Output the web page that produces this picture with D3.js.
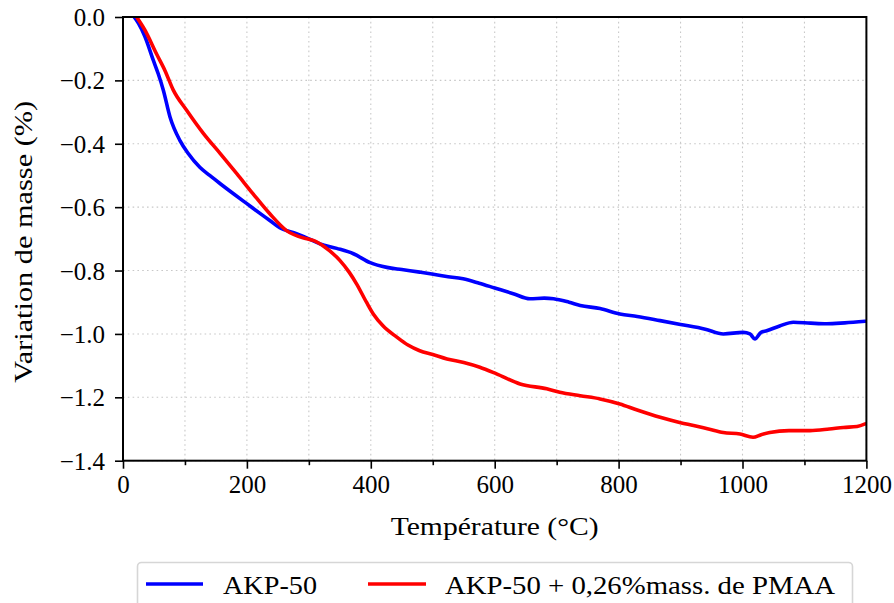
<!DOCTYPE html>
<html>
<head>
<meta charset="utf-8">
<script src="https://cdn.jsdelivr.net/npm/d3@7"></script>
<style>
  html, body { margin: 0; padding: 0; background: #fff; }
  svg { display: block; }
</style>
</head>
<body>
<svg id="chart" width="894" height="603" font-family="DejaVu Serif"></svg>
<script>
// ---- data ----
const blueT = [18,25,35,49,57,65,76,92,105,124,140,157,180,200,220,237,253,280,300,318,345,372,399,426,450,479,496,520,549,575,600,630,657,680,695,720,738,770,802,830,867,900,940,969,1001,1012,1020,1030,1039,1060,1082,1110,1136,1165,1198];
const blueV = [0.0,-0.02,-0.06,-0.137,-0.18,-0.23,-0.316,-0.39,-0.43,-0.474,-0.50,-0.526,-0.56,-0.589,-0.618,-0.642,-0.665,-0.684,-0.70,-0.716,-0.73,-0.747,-0.775,-0.79,-0.797,-0.805,-0.81,-0.818,-0.826,-0.84,-0.855,-0.873,-0.889,-0.887,-0.889,-0.90,-0.91,-0.92,-0.937,-0.945,-0.958,-0.97,-0.985,-1.0,-0.995,-1.0,-1.016,-0.995,-0.99,-0.975,-0.963,-0.966,-0.968,-0.965,-0.96];
const redT = [22,35,54,68,81,103,130,157,184,210,237,264,297,307,325,350,365,377,393,404,420,442,460,479,500,523,550,576,603,641,684,705,738,770,802,830,867,900,921,945,969,996,1017,1030,1044,1075,1109,1140,1163,1185,1198];
const redV = [0.0,-0.04,-0.116,-0.17,-0.23,-0.295,-0.368,-0.431,-0.495,-0.558,-0.621,-0.674,-0.70,-0.705,-0.725,-0.768,-0.805,-0.842,-0.90,-0.937,-0.975,-1.01,-1.035,-1.053,-1.065,-1.079,-1.09,-1.105,-1.126,-1.158,-1.173,-1.184,-1.195,-1.205,-1.221,-1.24,-1.263,-1.28,-1.289,-1.30,-1.311,-1.316,-1.326,-1.318,-1.311,-1.305,-1.305,-1.30,-1.295,-1.292,-1.284];
const seriesNames = ["AKP-50", "AKP-50 + 0,26%mass. de PMAA"];
const seriesColors = ["#0000ff", "#ff0000"];
const xMajorTicks = [0,200,400,600,800,1000,1200];
const xMinorTicks = [100,300,500,700,900,1100];
const yTicks = [0,-0.2,-0.4,-0.6,-0.8,-1.0,-1.2,-1.4];
const xLabel = "Température (°C)";
const yLabel = "Variation de masse (%)";

// ---- layout ----
const FONT = "Liberation Serif";
const svg = d3.select("#chart");
const L = 123, R = 866.4, T = 17, B = 460.7;
const x = d3.scaleLinear().domain([0, 1200]).range([L, R]);
const y = d3.scaleLinear().domain([-1.4, 0]).range([B, T]);

// grid
const grid = svg.append("g").attr("stroke", "#c8c8c8").attr("stroke-width", 1.1).attr("stroke-dasharray", "1.6,3.2");
grid.selectAll("line.vx").data(xMajorTicks.concat(xMinorTicks)).join("line")
  .attr("x1", d => x(d)).attr("x2", d => x(d)).attr("y1", T).attr("y2", B);
grid.selectAll("line.hy").data(yTicks).join("line")
  .attr("x1", L).attr("x2", R).attr("y1", d => y(d)).attr("y2", d => y(d));

// clip
svg.append("clipPath").attr("id", "clip").append("rect")
  .attr("x", L).attr("y", T).attr("width", R - L).attr("height", B - T);

const line = d3.line().x(d => x(d[0])).y(d => y(d[1])).curve(d3.curveMonotoneX);
const blueData = blueT.map((t, i) => [t, blueV[i]]);
const redData = redT.map((t, i) => [t, redV[i]]);
const plotG = svg.append("g").attr("clip-path", "url(#clip)");
[blueData, redData].forEach((data, i) => {
  plotG.append("path").datum(data).attr("d", line)
    .attr("fill", "none").attr("stroke", seriesColors[i])
    .attr("stroke-width", 3.6).attr("stroke-linejoin", "round").attr("stroke-linecap", "round");
});

// axes
const fmtY = d => (d === 0 ? "0.0" : d3.format(".1f")(d).replace("-", "\u2212"));
const xAxis = d3.axisBottom(x).tickValues(xMajorTicks).tickSize(8).tickPadding(7).tickFormat(d3.format("d"));
const xAxisMinor = d3.axisBottom(x).tickValues(xMinorTicks).tickSize(4.5).tickFormat("");
const yAxis = d3.axisLeft(y).tickValues(yTicks).tickSize(8).tickPadding(10).tickFormat(fmtY);

const gx = svg.append("g").attr("transform", `translate(0,${B})`).call(xAxis);
const gxm = svg.append("g").attr("transform", `translate(0,${B})`).call(xAxisMinor);
const gy = svg.append("g").attr("transform", `translate(${L},0)`).call(yAxis);
[gx, gxm, gy].forEach(g => {
  g.attr("font-family", FONT).attr("font-size", 25);
  g.select(".domain").remove();
  g.selectAll(".tick line").attr("stroke", "#000").attr("stroke-width", 1.6);
  g.selectAll(".tick text").attr("font-size", 25).attr("font-family", FONT);
});
gx.selectAll(".tick text").attr("dy", "0.71em");
gy.selectAll(".tick text").attr("dy", "0.34em");

// frame
svg.append("rect").attr("x", L).attr("y", T).attr("width", R - L).attr("height", B - T)
  .attr("fill", "none").attr("stroke", "#000").attr("stroke-width", 2);

// axis labels
svg.append("text").attr("x", (L + R) / 2).attr("y", 535).attr("text-anchor", "middle").attr("font-family", FONT)
  .attr("font-size", 25).attr("textLength", 208).attr("lengthAdjust", "spacingAndGlyphs").text(xLabel);
svg.append("text").attr("transform", `translate(32,${(T + B) / 2 + 3}) rotate(-90)`).attr("text-anchor", "middle").attr("font-family", FONT)
  .attr("font-size", 25).attr("textLength", 282).attr("lengthAdjust", "spacingAndGlyphs").text(yLabel);

// legend
const lg = svg.append("g");
lg.append("rect").attr("x", 137.5).attr("y", 562.5).attr("width", 715).attr("height", 50).attr("rx", 4)
  .attr("fill", "#fff").attr("stroke", "#d6d6d6").attr("stroke-width", 1.6);
const legendItems = [
  { x1: 146, x2: 203, tx: 223, tl: 94 },
  { x1: 368, x2: 426, tx: 445, tl: 390 }
];
legendItems.forEach((it, i) => {
  lg.append("line").attr("x1", it.x1).attr("x2", it.x2).attr("y1", 584).attr("y2", 584)
    .attr("stroke", seriesColors[i]).attr("stroke-width", 3.6);
  lg.append("text").attr("x", it.tx).attr("y", 594).attr("font-size", 25).attr("font-family", FONT)
    .attr("textLength", it.tl).attr("lengthAdjust", "spacingAndGlyphs").text(seriesNames[i]);
});
</script>
</body>
</html>
